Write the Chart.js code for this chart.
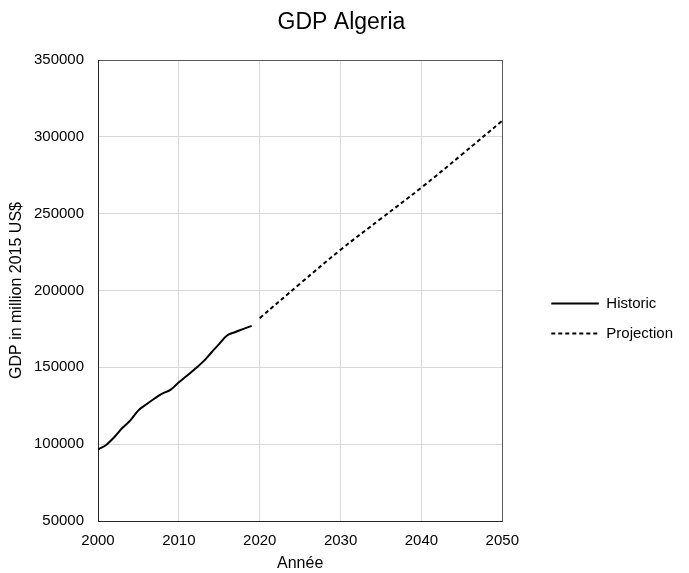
<!DOCTYPE html>
<html>
<head>
<meta charset="utf-8">
<title>GDP Algeria</title>
<script src="https://cdn.jsdelivr.net/npm/chart.js@4.4.0/dist/chart.umd.min.js"></script>
<style>
  html, body { margin: 0; padding: 0; background: #fff; }
  #wrap { position: relative; width: 689px; height: 573px; }
</style>
</head>
<body>
<div id="wrap"><canvas id="gdpChart"></canvas></div>
<script>
// historic GDP, million 2015 US$
const histYears = [2000, 2001, 2002, 2003, 2004, 2005, 2006, 2007, 2008, 2009,
                   2010, 2011, 2012, 2013, 2014, 2015, 2016, 2017, 2018, 2019];
const histValues = [96500, 99500, 104500, 110500, 115500, 122000, 126000, 129700, 133000, 135500,
                    140300, 144500, 149000, 153700, 159500, 165300, 170900, 173000, 175000, 177000];

// projection
const projYears = [2020, 2025, 2030, 2035, 2040, 2045, 2050];
const projValues = [182000, 204500, 226500, 246800, 267000, 288500, 310500];

// axis ticks
const xTicks = [2000, 2010, 2020, 2030, 2040, 2050];
const yTicks = [50000, 100000, 150000, 200000, 250000, 300000, 350000];

Chart.defaults.font.family = "'Liberation Sans', Arial, sans-serif";
Chart.defaults.color = '#000';

const toPoints = (xs, ys) => xs.map((x, i) => ({ x: x, y: ys[i] }));

// hide the grid line that sits on the axis itself
const gridColor = (ticks) => (ctx) => ctx.tick && ctx.tick.value === ticks[0] ? 'rgba(0,0,0,0)' : '#d9d9d9';

new Chart(document.getElementById('gdpChart'), {
    type: 'line',
    data: {
        datasets: [
            {
                label: 'Historic',
                data: toPoints(histYears, histValues),
                borderColor: '#000',
                backgroundColor: '#000',
                borderWidth: 2,
                pointRadius: 0,
                tension: 0.4
            },
            {
                label: 'Projection',
                data: toPoints(projYears, projValues),
                borderColor: '#000',
                backgroundColor: '#000',
                borderWidth: 2,
                borderDash: [4, 3],
                pointRadius: 0,
                tension: 0.4
            }
        ]
    },
    options: {
        responsive: true,
        maintainAspectRatio: false,
        animation: false,
        layout: { padding: { left: 0, right: 6, top: 0, bottom: 0 } },
        plugins: {
            title: {
                display: true,
                text: 'GDP Algeria',
                color: '#000',
                font: { size: 23, weight: 'normal' },
                padding: { top: 9.2, bottom: 23.2 }
            },
            legend: {
                position: 'right',
                maxWidth: 200,
                // empty title only pushes the entries down
                title: { display: true, text: '', font: { size: 10 }, padding: { top: 52, bottom: 0 } },
                labels: {
                    // flat box = a line; width keeps the dash pattern clean
                    boxWidth: 47.5,
                    boxHeight: 0,
                    padding: 15,
                    color: '#000',
                    font: { size: 15 }
                }
            },
            tooltip: { enabled: false }
        },
        scales: {
            x: {
                type: 'linear',
                position: 'bottom',
                min: xTicks[0],
                max: xTicks[xTicks.length - 1],
                afterBuildTicks: (scale) => { scale.ticks = xTicks.map(v => ({ value: v })); },
                afterFit: (scale) => { scale.height = 52; },
                grid: { color: gridColor(xTicks), drawTicks: false },
                border: { color: '#262626' },
                ticks: { padding: 11, font: { size: 15 }, callback: (v) => String(v) },
                title: { display: true, text: 'Année', font: { size: 16 }, padding: 0 }
            },
            xTop: {
                type: 'linear',
                position: 'top',
                grid: { display: false, drawTicks: false },
                ticks: { display: false },
                border: { color: '#595959' },
                afterFit: (scale) => { scale.height = 0; }
            },
            y: {
                type: 'linear',
                position: 'left',
                min: yTicks[0],
                max: yTicks[yTicks.length - 1],
                afterBuildTicks: (scale) => { scale.ticks = yTicks.map(v => ({ value: v })); },
                afterFit: (scale) => { scale.width = 98; },
                grid: { color: gridColor(yTicks), drawTicks: false },
                border: { color: '#262626' },
                ticks: { padding: 14, font: { size: 15 }, callback: (v) => String(v) },
                title: { display: true, text: 'GDP in million 2015 US$', font: { size: 16 }, padding: { top: 7, bottom: 0 } }
            },
            yRight: {
                type: 'linear',
                position: 'right',
                grid: { display: false, drawTicks: false },
                ticks: { display: false },
                border: { color: '#595959' },
                afterFit: (scale) => { scale.width = 34; }
            }
        }
    }
});
</script>
</body>
</html>
